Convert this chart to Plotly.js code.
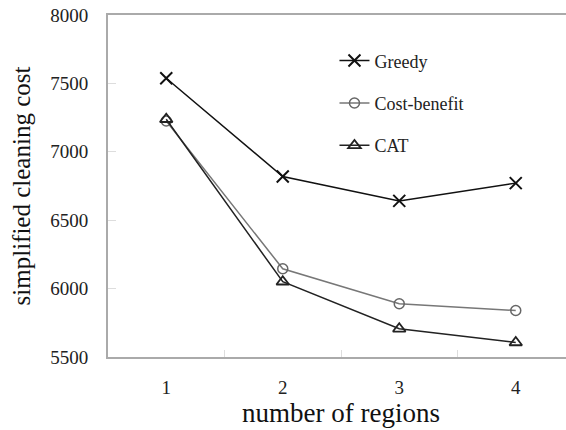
<!DOCTYPE html>
<html>
<head>
<meta charset="utf-8">
<script src="https://cdn.plot.ly/plotly-3.0.1.min.js"></script>
<style>
html,body{margin:0;padding:0;overflow:hidden;background:#fff;}
#chart{width:580px;height:430px;}
</style>
</head>
<body>
<div id="chart"></div>
<script>
const regions = [1, 2, 3, 4];
const greedy = [7538, 6819, 6641, 6771];
const costBenefit = [7225, 6145, 5889, 5840];
const cat = [7238, 6050, 5706, 5606];
const yTicks = [5500, 6000, 6500, 7000, 7500, 8000];

const serif = "'Liberation Serif', 'Times New Roman', Times, serif";

const traces = [
  {x: regions, y: greedy, name: "Greedy", mode: "lines+markers", legendgroup: "a",
   line: {color: "#111", width: 1.5},
   marker: {symbol: "x-thin-open", size: 12, color: "#111", line: {width: 2, color: "#111"}}},
  {x: regions, y: costBenefit, name: "Cost-benefit", mode: "lines+markers", legendgroup: "b",
   line: {color: "#777", width: 1.5},
   marker: {symbol: "circle-open", size: 10, color: "#666", line: {width: 1.5, color: "#666"}}},
  {x: regions, y: cat, name: "CAT", mode: "lines+markers", legendgroup: "c",
   line: {color: "#222", width: 1.5},
   marker: {symbol: "triangle-up-open", size: 11, color: "#222", line: {width: 1.8, color: "#222"}}}
];

const layout = {
  width: 580, height: 430,
  margin: {l: 108, r: 6, t: 15, b: 73},
  paper_bgcolor: "#fff", plot_bgcolor: "#fff",
  font: {family: serif, color: "#222"},
  showlegend: true,
  legend: {x: 0.486, y: 0.92, xanchor: "left", yanchor: "top", bgcolor: "rgba(0,0,0,0)",
           font: {family: serif, size: 18, color: "#222"}, traceorder: "grouped", tracegroupgap: 16},
  xaxis: {
    range: [0.5, 4.5], tickvals: regions, ticktext: regions.map(String),
    ticks: "", showgrid: false, zeroline: false,
    showline: true, linecolor: "#aaa", linewidth: 2, mirror: true,
    tickfont: {family: serif, size: 19, color: "#222"}, ticklabelstandoff: 12,
    minor: {tickvals: [1.5, 2.5, 3.5], ticks: "inside", ticklen: 7, tickcolor: "#ddd", tickwidth: 1, showgrid: false},
    title: {text: "number of regions", font: {family: serif, size: 27, color: "#111"}, standoff: 1}
  },
  yaxis: {
    range: [5500, 8000], tickvals: yTicks, ticks: "inside", ticklen: 8, tickcolor: "#ddd",
    showgrid: false, zeroline: false,
    showline: true, linecolor: "#aaa", linewidth: 2,
    tickfont: {family: serif, size: 19, color: "#222"}, ticklabelstandoff: 14,
    title: {text: "simplified cleaning cost", font: {family: serif, size: 25, color: "#111"}, standoff: 12}
  }
};

Plotly.newPlot("chart", traces, layout, {displayModeBar: false, staticPlot: true});
</script>
</body>
</html>
